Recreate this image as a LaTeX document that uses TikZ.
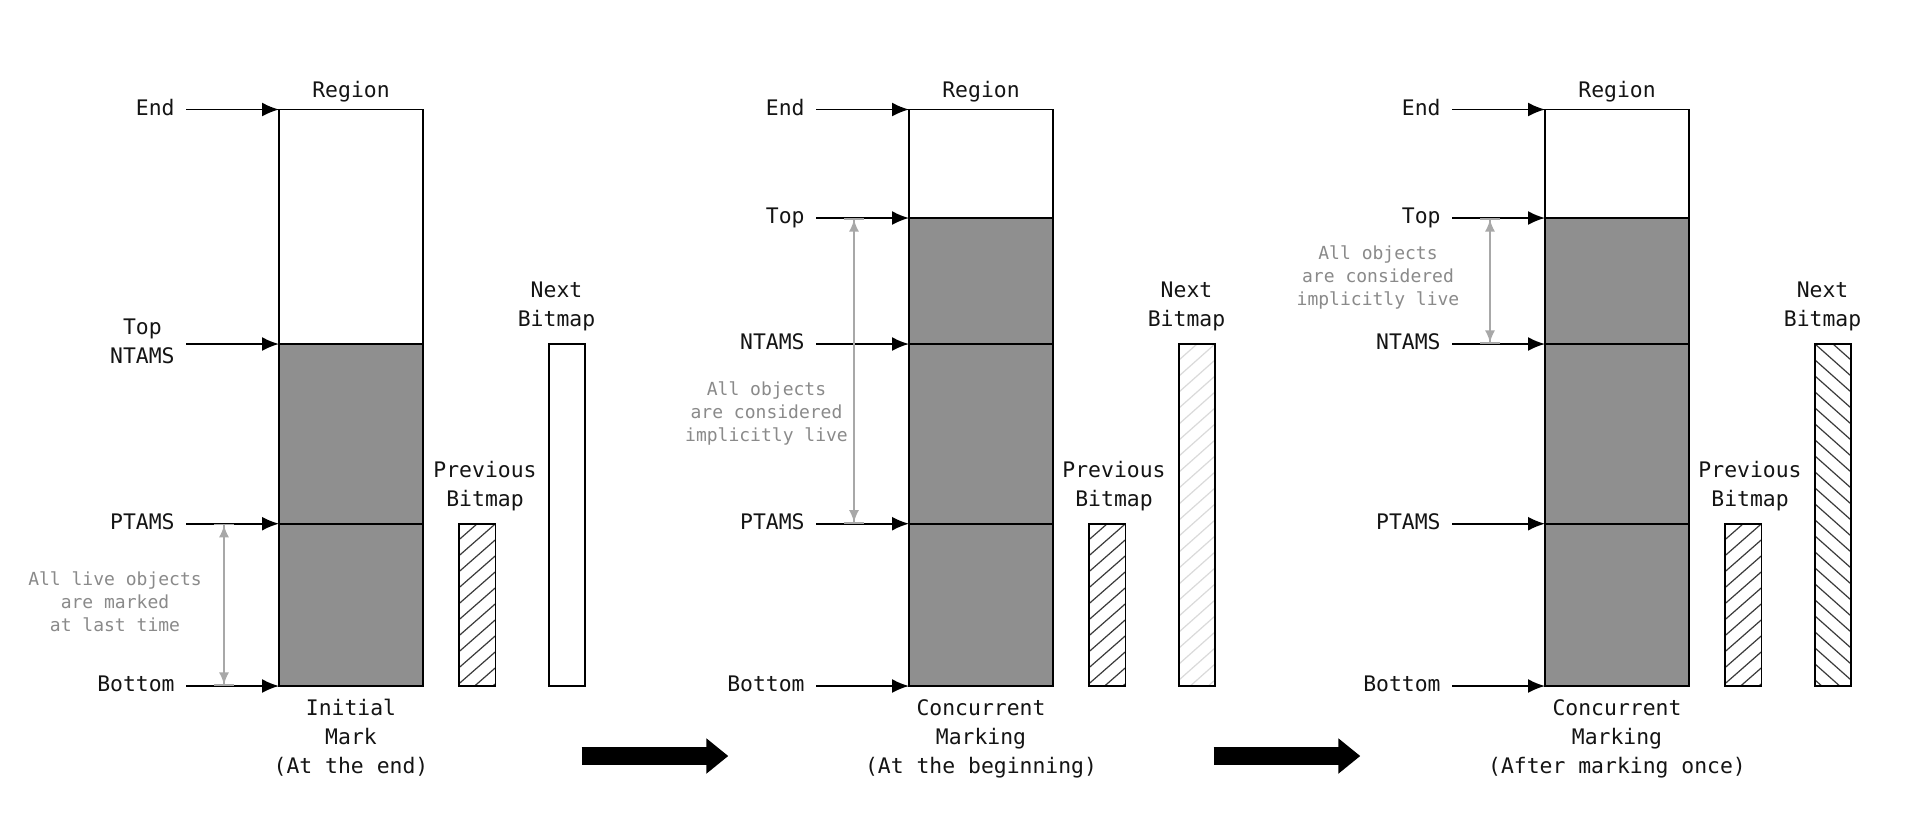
\documentclass[tikz,border=0pt]{standalone}
\usepackage{fontspec}
\setmainfont{DejaVu Sans Mono}
\usepackage{xcolor}
\usetikzlibrary{arrows.meta}
\definecolor{heapgray}{HTML}{8F8F8F}
\definecolor{notegray}{HTML}{8A8A8A}
\definecolor{spangray}{HTML}{A8A8A8}
\definecolor{hatchgray}{HTML}{3A3A3A}
\definecolor{fadegray}{HTML}{DADADA}
\tikzset{
	lbl/.style={font=\fontsize{10.7pt}{14.5pt}\selectfont, text=black!92, align=center, inner sep=0pt},
	note/.style={font=\fontsize{9pt}{11.5pt}\selectfont, text=notegray, align=center, inner sep=0pt},
	ptr/.style={line width=0.9pt, -{Latex[length=8.5pt,width=7pt]}},
	livespan/.style={draw=spangray, line width=0.8pt,
			{Bar[width=10pt]Latex[length=6pt,width=5pt]}-{Latex[length=6pt,width=5pt]Bar[width=10pt]}},
	cellbox/.style={draw, line width=0.9pt},
	cellline/.style={draw, line width=0.8pt},
	hatch/.style={draw=hatchgray, line width=0.6pt},
	fadehatch/.style={draw=fadegray, line width=0.6pt},
	bigarrow/.style={line width=9pt, -{Triangle[length=11pt,width=17pt]}}
}

\begin{document}
\begin{tikzpicture}[x=0.5pt,y=-0.5pt]
	\useasboundingbox[fill=white] (0,0) rectangle (1922,826);

	% panel 1: initial mark (at the end)
	\begin{scope}[shift={(279,0)}]
		\fill[heapgray] (0,344) rectangle (144,686);
		\draw[cellline] (0,344) -- (144,344) (0,523.7) -- (144,523.7);
		\draw[cellbox] (0,109.5) rectangle (144,686);
		\node[lbl, anchor=base] (a-region) at (72,97.7) {Region};
		\node[lbl, anchor=north] (a-phase) at (72,699) {Initial\\Mark\\(At the end)};
		\foreach \n/\y in {end/109.5, ntams/344, ptams/523.7, bottom/686} {
			\coordinate (a-\n-from) at (-93,\y);
			\coordinate (a-\n) at (0,\y);
			\draw[ptr] (a-\n-from) -- (a-\n);
		}
		\node[lbl, anchor=base east] (a-end-l) at (-104,115.5) {End};
		\node[lbl, anchor=east] (a-ntams-l) at (-104,341) {Top\\NTAMS};
		\node[lbl, anchor=base east] (a-ptams-l) at (-104,529.5) {PTAMS};
		\node[lbl, anchor=base east] (a-bottom-l) at (-104,691.5) {Bottom};
		\coordinate (a-span-top) at (-55,523.7);
		\coordinate (a-span-bot) at (-55,686);
		\draw[livespan] (a-span-top) -- (a-span-bot);
		\node[note, anchor=north] (a-note) at (-164,571) {All live objects\\are marked\\at last time};
		% previous bitmap
		\begin{scope}
			\clip (180,523.7) rectangle (216.5,686);
			\foreach \h in {0,16,...,208} \draw[hatch] (180,523.7+\h) -- ++(36.5,-32);
		\end{scope}
		\draw[cellbox] (180,523.7) rectangle (216.5,686);
		\node[lbl, anchor=north] (a-prev) at (206,461) {Previous\\Bitmap};
		% next bitmap
		\draw[cellbox] (270,344) rectangle (306,686);
		\node[lbl, anchor=north] (a-next) at (277.5,281) {Next\\Bitmap};
	\end{scope}

	% panel 2: concurrent marking (at the beginning)
	\begin{scope}[shift={(909,0)}]
		\fill[heapgray] (0,218) rectangle (144,686);
		\draw[cellline] (0,218) -- (144,218) (0,344) -- (144,344) (0,523.7) -- (144,523.7);
		\draw[cellbox] (0,109.5) rectangle (144,686);
		\node[lbl, anchor=base] (b-region) at (72,97.7) {Region};
		\node[lbl, anchor=north] (b-phase) at (72,699) {Concurrent\\Marking\\(At the beginning)};
		\foreach \n/\y in {end/109.5, top/218, ntams/344, ptams/523.7, bottom/686} {
			\coordinate (b-\n-from) at (-93,\y);
			\coordinate (b-\n) at (0,\y);
			\draw[ptr] (b-\n-from) -- (b-\n);
		}
		\node[lbl, anchor=base east] (b-end-l) at (-104,115.5) {End};
		\node[lbl, anchor=base east] (b-top-l) at (-104,223.5) {Top};
		\node[lbl, anchor=base east] (b-ntams-l) at (-104,349.5) {NTAMS};
		\node[lbl, anchor=base east] (b-ptams-l) at (-104,529.5) {PTAMS};
		\node[lbl, anchor=base east] (b-bottom-l) at (-104,691.5) {Bottom};
		\coordinate (b-span-top) at (-55,218);
		\coordinate (b-span-bot) at (-55,523.7);
		\draw[livespan] (b-span-top) -- (b-span-bot);
		\node[note, anchor=north] (b-note) at (-142.5,381.3) {All objects\\are considered\\implicitly live};
		% previous bitmap
		\begin{scope}
			\clip (180,523.7) rectangle (216.5,686);
			\foreach \h in {0,16,...,208} \draw[hatch] (180,523.7+\h) -- ++(36.5,-32);
		\end{scope}
		\draw[cellbox] (180,523.7) rectangle (216.5,686);
		\node[lbl, anchor=north] (b-prev) at (205,461) {Previous\\Bitmap};
		% next bitmap, faintly hatched
		\begin{scope}
			\clip (270,344) rectangle (306,686);
			\foreach \h in {0,16,...,384} \draw[fadehatch] (270,344+\h) -- ++(36,-32);
		\end{scope}
		\draw[cellbox] (270,344) rectangle (306,686);
		\node[lbl, anchor=north] (b-next) at (277.5,281) {Next\\Bitmap};
	\end{scope}

	% panel 3: concurrent marking (after marking once)
	\begin{scope}[shift={(1545,0)}]
		\fill[heapgray] (0,218) rectangle (144,686);
		\draw[cellline] (0,218) -- (144,218) (0,344) -- (144,344) (0,523.7) -- (144,523.7);
		\draw[cellbox] (0,109.5) rectangle (144,686);
		\node[lbl, anchor=base] (c-region) at (72,97.7) {Region};
		\node[lbl, anchor=north] (c-phase) at (72,699) {Concurrent\\Marking\\(After marking once)};
		\foreach \n/\y in {end/109.5, top/218, ntams/344, ptams/523.7, bottom/686} {
			\coordinate (c-\n-from) at (-93,\y);
			\coordinate (c-\n) at (0,\y);
			\draw[ptr] (c-\n-from) -- (c-\n);
		}
		\node[lbl, anchor=base east] (c-end-l) at (-104,115.5) {End};
		\node[lbl, anchor=base east] (c-top-l) at (-104,223.5) {Top};
		\node[lbl, anchor=base east] (c-ntams-l) at (-104,349.5) {NTAMS};
		\node[lbl, anchor=base east] (c-ptams-l) at (-104,529.5) {PTAMS};
		\node[lbl, anchor=base east] (c-bottom-l) at (-104,691.5) {Bottom};
		\coordinate (c-span-top) at (-55,218);
		\coordinate (c-span-bot) at (-55,344);
		\draw[livespan] (c-span-top) -- (c-span-bot);
		\node[note, anchor=north] (c-note) at (-167,245.3) {All objects\\are considered\\implicitly live};
		% previous bitmap
		\begin{scope}
			\clip (180,523.7) rectangle (216.5,686);
			\foreach \h in {0,16,...,208} \draw[hatch] (180,523.7+\h) -- ++(36.5,-32);
		\end{scope}
		\draw[cellbox] (180,523.7) rectangle (216.5,686);
		\node[lbl, anchor=north] (c-prev) at (205,461) {Previous\\Bitmap};
		% next bitmap
		\begin{scope}
			\clip (270,344) rectangle (306,686);
			\foreach \h in {-32,-16,...,352} \draw[hatch] (270,344+\h) -- ++(36,32);
		\end{scope}
		\draw[cellbox] (270,344) rectangle (306,686);
		\node[lbl, anchor=north] (c-next) at (277.5,281) {Next\\Bitmap};
	\end{scope}

	% phase arrows
	\coordinate (ab-from) at (581.7,756);
	\coordinate (ab-to) at (728.3,756);
	\coordinate (bc-from) at (1213.7,756);
	\coordinate (bc-to) at (1360.3,756);
	\draw[bigarrow] (ab-from) -- (ab-to);
	\draw[bigarrow] (bc-from) -- (bc-to);
\end{tikzpicture}
\end{document}
